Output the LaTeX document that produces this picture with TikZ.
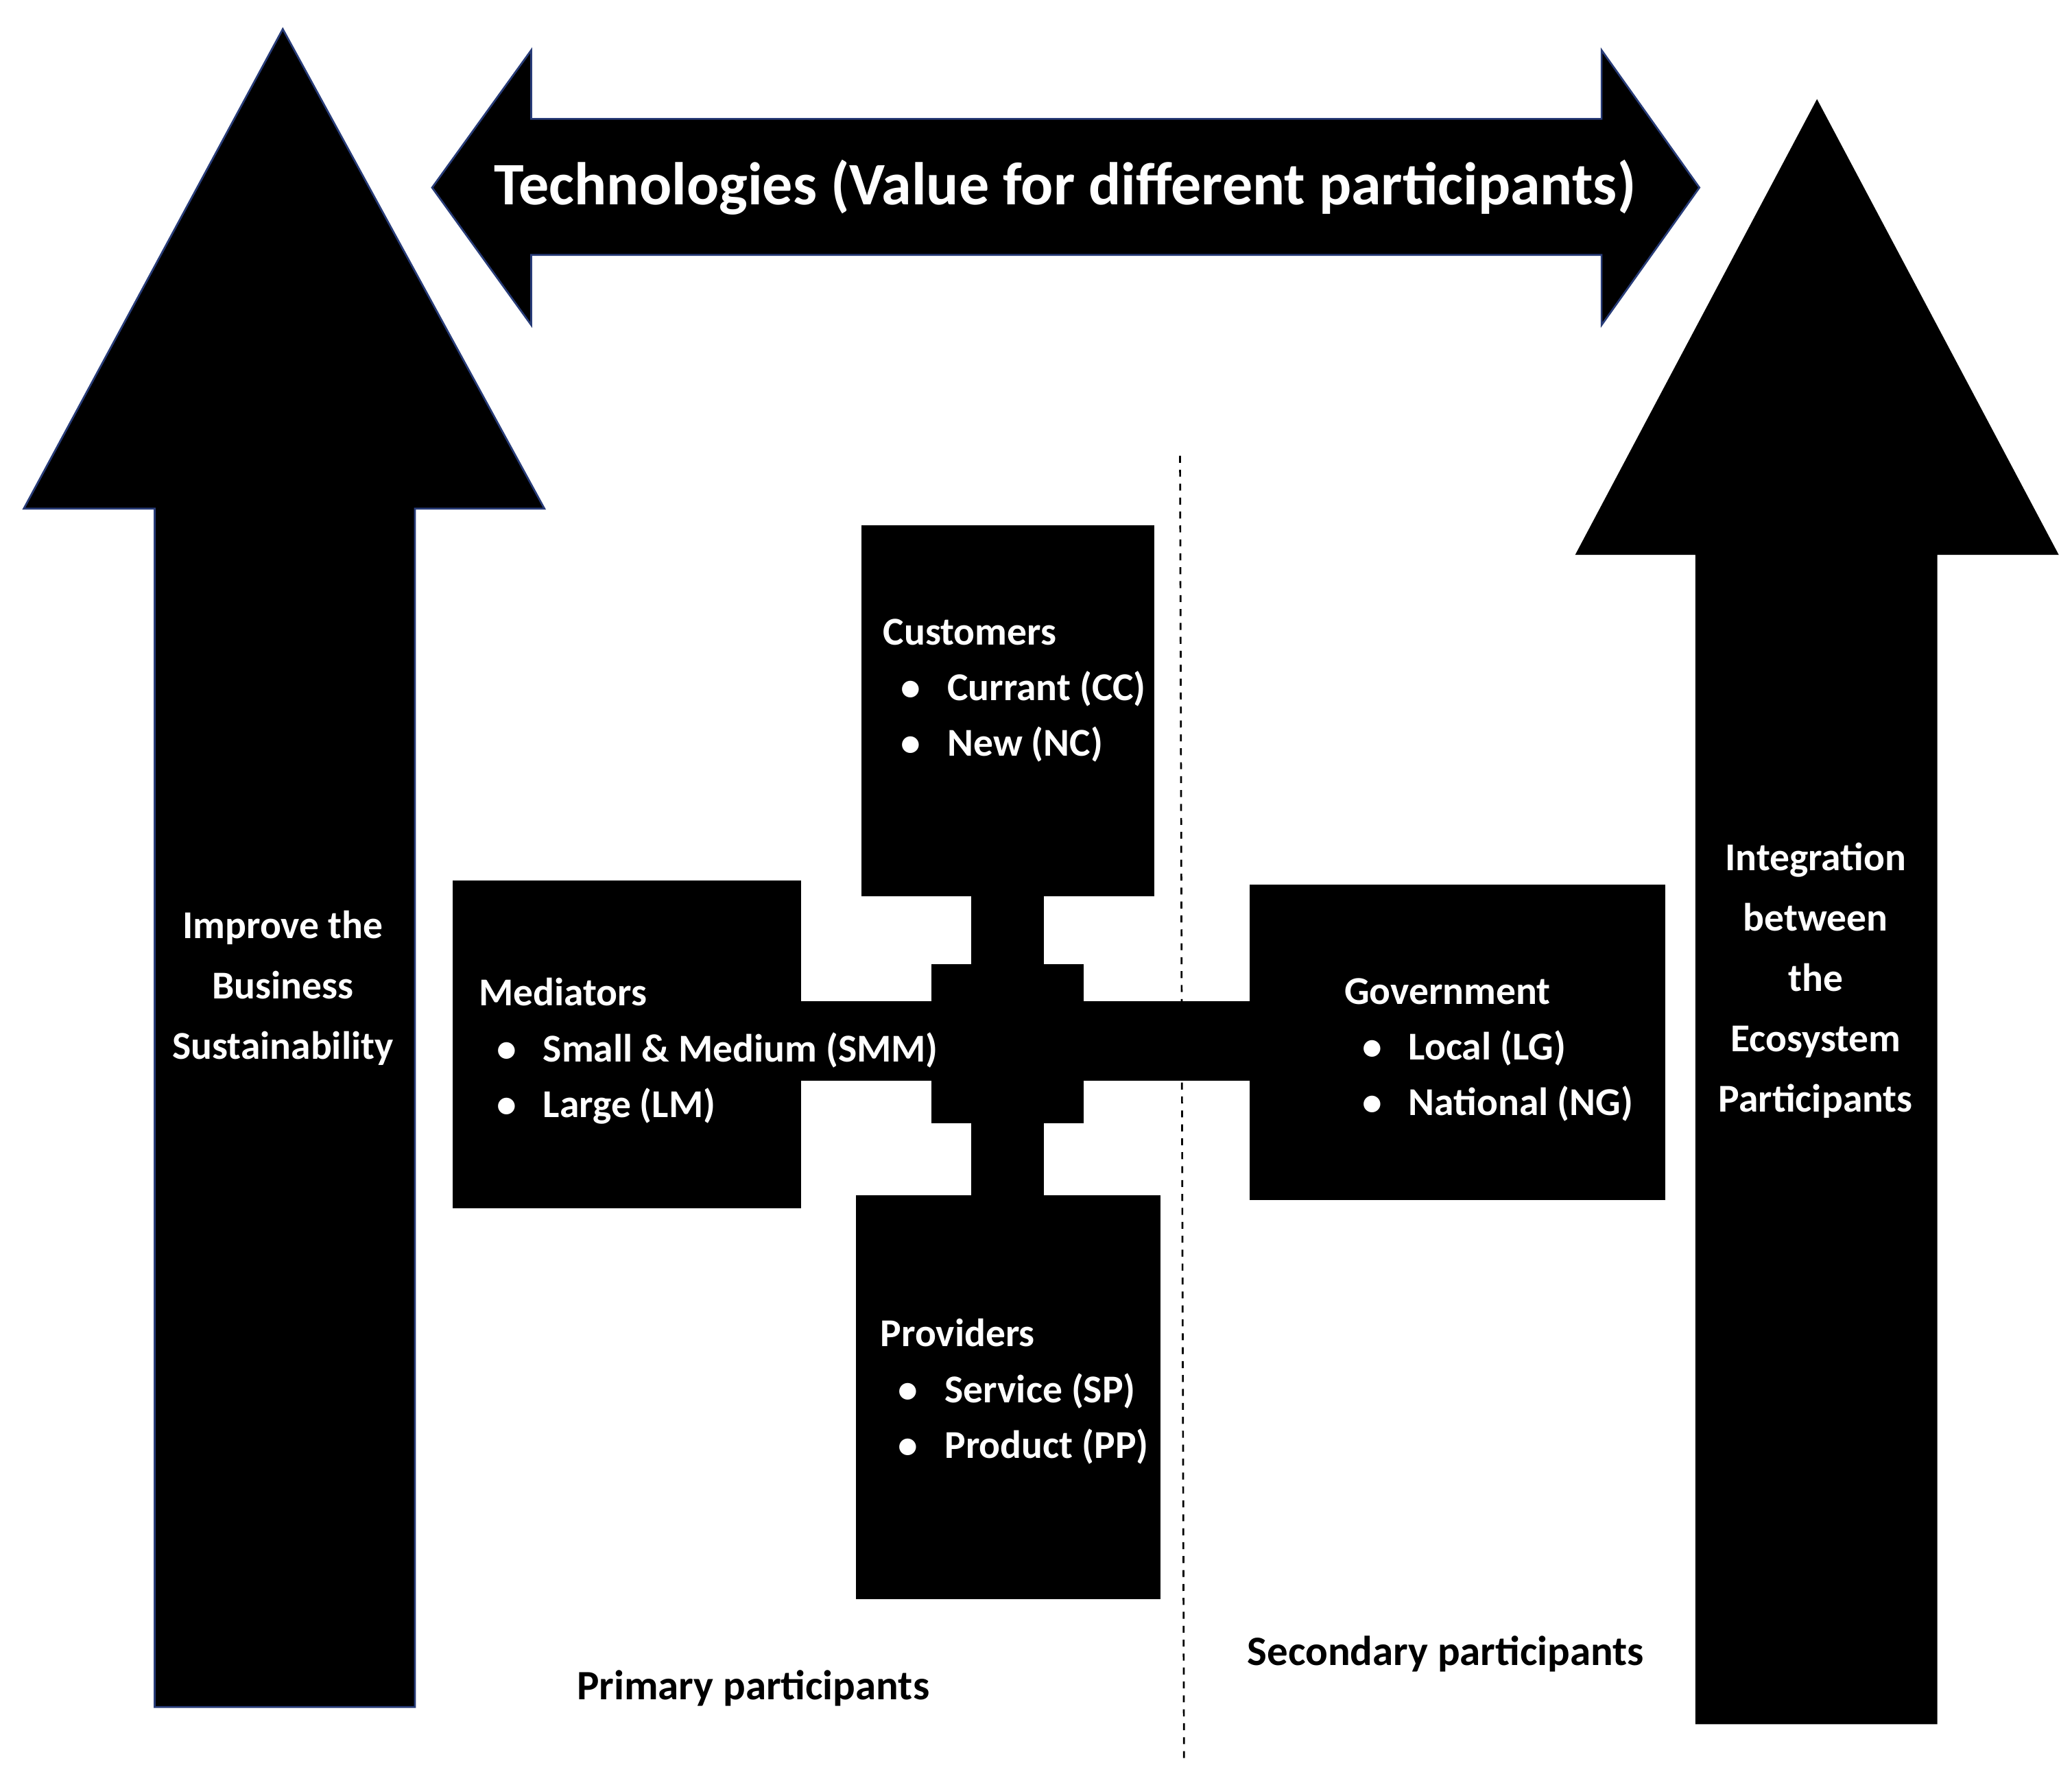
\documentclass[tikz,border=0pt]{standalone}
\usepackage{fontspec}
\setmainfont{Carlito}
\begin{document}
\begin{tikzpicture}[x=0.02cm,y=-0.02cm,
  blk/.style={fill=black,draw=black},
  txt/.style={text=white,font=\bfseries\fontsize{17}{26}\selectfont,align=left,inner sep=0},
  lab/.style={text=black,font=\bfseries\fontsize{18}{26}\selectfont,inner sep=0}]
\useasboundingbox (0,0) rectangle (1568,1351);
% left arrow
\fill[black,draw={rgb,255:red,40;green,60;blue,120},line width=0.8pt] (214,22) -- (412,385) -- (314,385) -- (314,1292) -- (117,1292) -- (117,385) -- (18,385) -- cycle;
\node[txt,align=center] (la) at (214,748) {Improve the\\Business\\Sustainability};
% right arrow
\fill[black] (1375,75) -- (1558,420) -- (1466,420) -- (1466,1305) -- (1283,1305) -- (1283,420) -- (1192,420) -- cycle;
\node[txt,align=center] (ra) at (1374,742) {Integration\\between\\the\\Ecosystem\\Participants};
% double arrow
\fill[black,draw={rgb,255:red,40;green,60;blue,120},line width=0.8pt] (327,142) -- (402,38) -- (402,90) -- (1212,90) -- (1212,38) -- (1286,142) -- (1212,246) -- (1212,193) -- (402,193) -- (402,246) -- cycle;
\node[txt,font=\bfseries\fontsize{26}{30}\selectfont] (tech) at (806,142) {Technologies (Value for different participants)};
% connectors
\fill[black] (735,670) rectangle (790,910);
\fill[black] (600,758) rectangle (950,818);
\fill[black] (705,730) rectangle (820,850);
% boxes
\path[blk] (652,398) rectangle (873,678) coordinate (cust);
\path[blk] (343,667) rectangle (606,914) coordinate (med);
\path[blk] (946,670) rectangle (1260,908) coordinate (gov);
\path[blk] (648,905) rectangle (878,1210) coordinate (prov);
\node[txt,anchor=north west] (ct) at (668,468) {Customers\\[-2pt]\ \ \textbullet\ \ \ Currant (CC)\\[-2pt]\ \ \textbullet\ \ \ New (NC)};
\node[txt,anchor=north west] (mt) at (362,740) {Mediators\\[-2pt]\ \ \textbullet\ \ \ Small \& Medium (SMM)\\[-2pt]\ \ \textbullet\ \ \ Large (LM)};
\node[txt,anchor=north west] (gt) at (1017,740) {Government\\[-2pt]\ \ \textbullet\ \ \ Local (LG)\\[-2pt]\ \ \textbullet\ \ \ National (NG)};
\node[txt,anchor=north west] (pt) at (666,998) {Providers\\[-2pt]\ \ \textbullet\ \ \ Service (SP)\\[-2pt]\ \ \textbullet\ \ \ Product (PP)};
% dashed line
\coordinate (d1) at (893,345); \coordinate (d2) at (896,1332);
\draw[dashed,line width=0.8pt] (d1) -- (d2);
\node[lab] (pp) at (570,1278) {Primary participants};
\node[lab] (sp) at (1094,1252) {Secondary participants};
\end{tikzpicture}
\end{document}
